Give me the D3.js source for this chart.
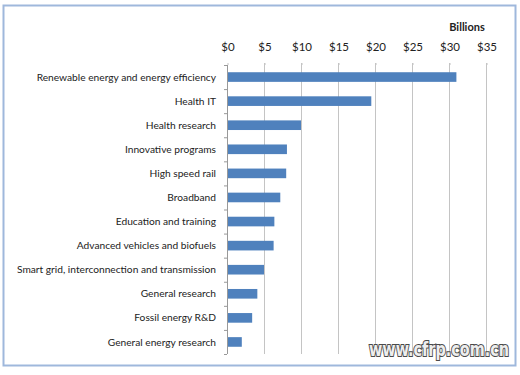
<!DOCTYPE html>
<html>
<head>
<meta charset="utf-8">
<script src="https://cdn.jsdelivr.net/npm/d3@7"></script>
<style>
  body { margin: 0; background: #fff; }
  svg { display: block; font-family: Lato, "Liberation Sans", sans-serif; }
</style>
</head>
<body>
<div id="chart"></div>
<script>
// ARRA spending by area, in billions of dollars
const categories = [
  "Renewable energy and energy efficiency",
  "Health IT",
  "Health research",
  "Innovative programs",
  "High speed rail",
  "Broadband",
  "Education and training",
  "Advanced vehicles and biofuels",
  "Smart grid, interconnection and transmission",
  "General research",
  "Fossil energy R&D",
  "General energy research"
];
const values = [31, 19.5, 10, 8.1, 8, 7.2, 6.4, 6.3, 5, 4.1, 3.4, 2];
const tickValues = [0, 5, 10, 15, 20, 25, 30, 35];

const width = 520, height = 375;
const margin = {top: 65, right: 34, bottom: 21, left: 227};

let svg = d3.select("#chart").append("svg")
    .attr("width", width)
    .attr("height", height);

// frame
svg.append("rect")
    .attr("x", 3.5).attr("y", 5.5)
    .attr("width", 512).attr("height", 360)
    .attr("fill", "#fff")
    .attr("stroke", "#9fb8dc")
    .attr("stroke-width", 2);

let x = d3.scaleLinear()
    .domain([0, 35])
    .range([margin.left, width - margin.right]);

let y = d3.scaleBand()
    .domain(categories)
    .range([margin.top, height - margin.bottom])
    .paddingInner(0.6)
    .paddingOuter(0.3);

let plot = svg.append("g");

// vertical gridlines
plot.selectAll("line.grid")
    .data(tickValues.slice(1))
    .join("line")
    .attr("class", "grid")
    .attr("x1", d => x(d) + 0.5).attr("x2", d => x(d) + 0.5)
    .attr("y1", margin.top - 2).attr("y2", height - margin.bottom)
    .attr("stroke", "#c4c4c4");

// top axis labels
let xAxis = d3.axisTop(x)
    .tickValues(tickValues)
    .tickFormat(d => "$" + d)
    .tickSize(2)
    .tickPadding(12);
let gx = svg.append("g")
    .attr("transform", `translate(0.5,${margin.top})`)
    .call(xAxis);
gx.select(".domain").remove();
gx.selectAll(".tick line").attr("stroke", "#c4c4c4");
gx.selectAll(".tick text")
    .attr("font-family", "Lato, sans-serif")
    .attr("font-size", 11.5)
    .attr("fill", "#222");

svg.append("text")
    .attr("x", 467).attr("y", 31)
    .attr("text-anchor", "middle")
    .attr("font-size", 11)
    .attr("font-weight", "bold")
    .attr("fill", "#222")
    .text("Billions");

// bars
plot.selectAll("rect.bar")
    .data(values)
    .join("rect")
    .attr("class", "bar")
    .attr("x", x(0) + 1)
    .attr("y", (d, i) => y(categories[i]))
    .attr("width", d => x(d) - x(0) - 1)
    .attr("height", y.bandwidth())
    .attr("fill", "#4f81bd");

// left axis with ticks at category boundaries
let gy = svg.append("g");
gy.append("line")
    .attr("x1", x(0) + 0.5).attr("x2", x(0) + 0.5)
    .attr("y1", margin.top).attr("y2", height - margin.bottom)
    .attr("stroke", "#999");
gy.selectAll("line.tk")
    .data(d3.range(categories.length + 1))
    .join("line")
    .attr("class", "tk")
    .attr("x1", x(0) - 3).attr("x2", x(0))
    .attr("y1", i => margin.top + i * (height - margin.bottom - margin.top) / categories.length + 0.5)
    .attr("y2", i => margin.top + i * (height - margin.bottom - margin.top) / categories.length + 0.5)
    .attr("stroke", "#999");

gy.selectAll("text")
    .data(categories)
    .join("text")
    .attr("x", 216)
    .attr("y", d => y(d) + y.bandwidth() / 2)
    .attr("dy", "0.35em")
    .attr("text-anchor", "end")
    .attr("font-size", 10.2)
    .attr("fill", "#222")
    .text(d => d);

// watermark
svg.append("text")
    .attr("x", 439).attr("y", 356)
    .attr("text-anchor", "middle")
    .attr("font-family", "DejaVu Sans Condensed, DejaVu Sans")
    .attr("font-weight", "bold")
    .attr("font-size", 19)
    .attr("textLength", 140)
    .attr("lengthAdjust", "spacingAndGlyphs")
    .attr("fill", "#eeeeee")
    .attr("stroke", "#4a4a4a")
    .attr("stroke-width", 2)
    .attr("paint-order", "stroke")
    .text("www.cfrp.com.cn");
</script>
</body>
</html>
